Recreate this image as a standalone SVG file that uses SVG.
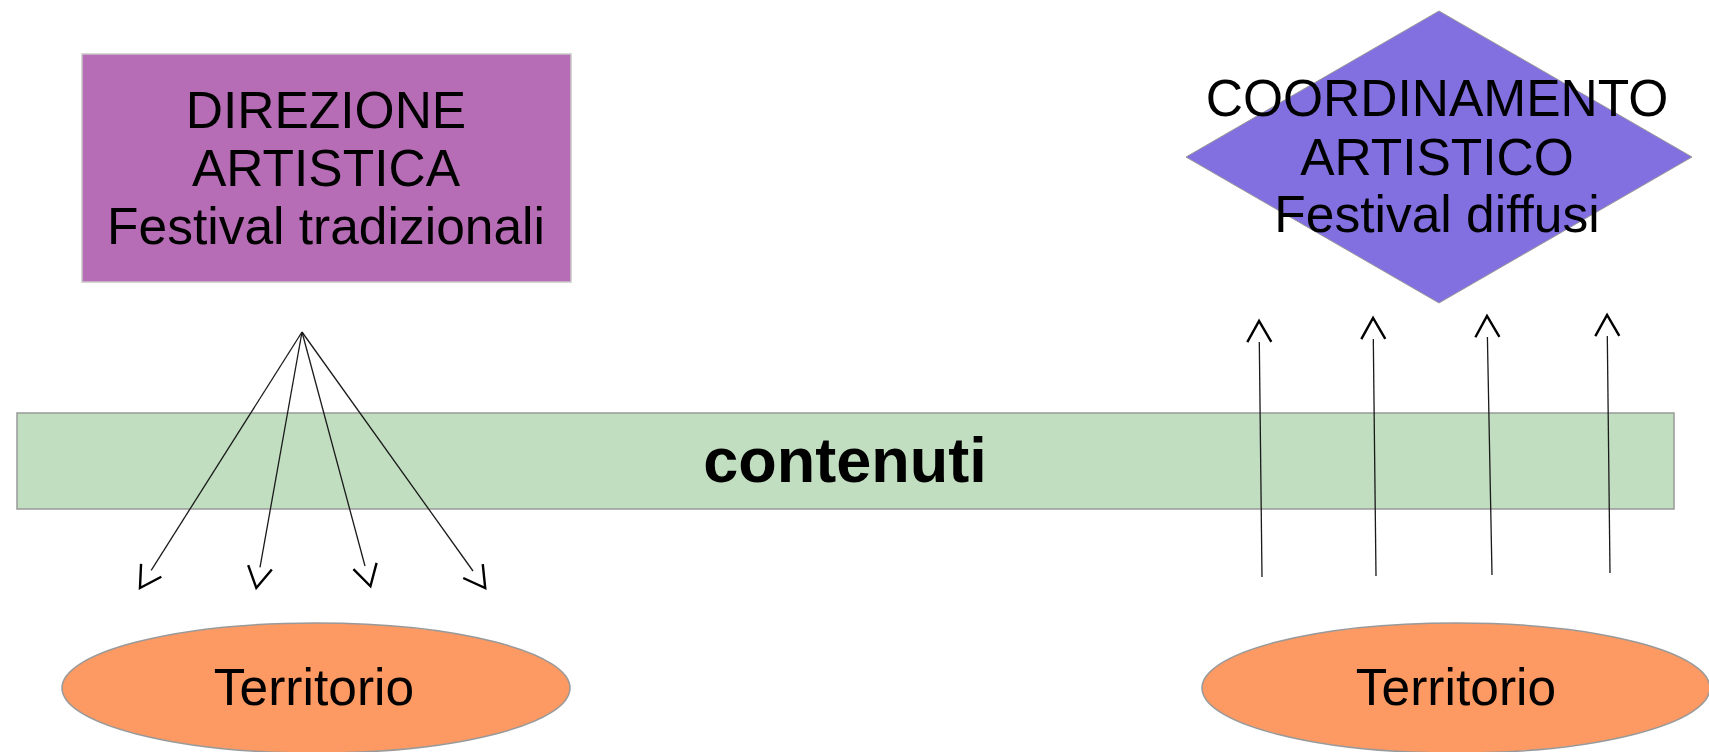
<svg xmlns="http://www.w3.org/2000/svg" width="1709" height="752" viewBox="0 0 1709 752">
<style>
text{font-family:"Liberation Sans",Arial,sans-serif;fill:#000;text-anchor:middle}
.t{font-size:51.5px}
.c{font-size:63px;font-weight:bold}
.ln{stroke:#1a1a1a;stroke-width:1.3;fill:none}
</style>
<defs>
<marker id="v" markerUnits="userSpaceOnUse" markerWidth="40" markerHeight="40" refX="0" refY="0" orient="auto" overflow="visible">
<path d="M0,-12 L21,0 L0,12" fill="none" stroke="#000" stroke-width="2.4"/>
</marker>
</defs>
<rect width="1709" height="752" fill="#fff"/>
<g id="direzione">
<rect x="82" y="54" width="489" height="228" fill="#b76db5" stroke="#c8c8c8" stroke-width="1.5"/>
<text class="t" x="326" y="128">DIREZIONE</text>
<text class="t" x="326" y="186">ARTISTICA</text>
<text class="t" x="326" y="244">Festival tradizionali</text>
</g>
<g id="contenuti">
<rect x="17" y="413" width="1657" height="96" fill="#c1dfc0" stroke="#999" stroke-width="1.5"/>
<text class="c" x="845" y="482">contenuti</text>
</g>
<g id="coordinamento">
<polygon points="1439,11 1692,157 1439,303 1186,157" fill="#8370e0" stroke="#999" stroke-width="1"/>
<text class="t" x="1437" y="116">COORDINAMENTO</text>
<text class="t" x="1437" y="175">ARTISTICO</text>
<text class="t" x="1437" y="232">Festival diffusi</text>
</g>
<g id="territorio-sx">
<ellipse cx="316" cy="688" rx="254" ry="65" fill="#fd9a64" stroke="#999" stroke-width="1.5"/>
<text class="t" x="314" y="705">Territorio</text>
</g>
<g id="territorio-dx">
<ellipse cx="1456" cy="688" rx="254" ry="65" fill="#fd9a64" stroke="#999" stroke-width="1.5"/>
<text class="t" x="1456" y="705">Territorio</text>
</g>
<g id="connectors">
<line class="ln" x1="302" y1="332" x2="151.2" y2="570.3" marker-end="url(#v)"/>
<line class="ln" x1="302" y1="332" x2="260" y2="567.3" marker-end="url(#v)"/>
<line class="ln" x1="302" y1="332" x2="365" y2="566" marker-end="url(#v)"/>
<line class="ln" x1="302" y1="332" x2="473" y2="571" marker-end="url(#v)"/>
<line class="ln" x1="1262" y1="577" x2="1259.3" y2="342" marker-end="url(#v)"/>
<line class="ln" x1="1376" y1="576" x2="1373.3" y2="339" marker-end="url(#v)"/>
<line class="ln" x1="1492" y1="575" x2="1487.4" y2="337" marker-end="url(#v)"/>
<line class="ln" x1="1610" y1="573" x2="1607.3" y2="336" marker-end="url(#v)"/>
</g>
</svg>
